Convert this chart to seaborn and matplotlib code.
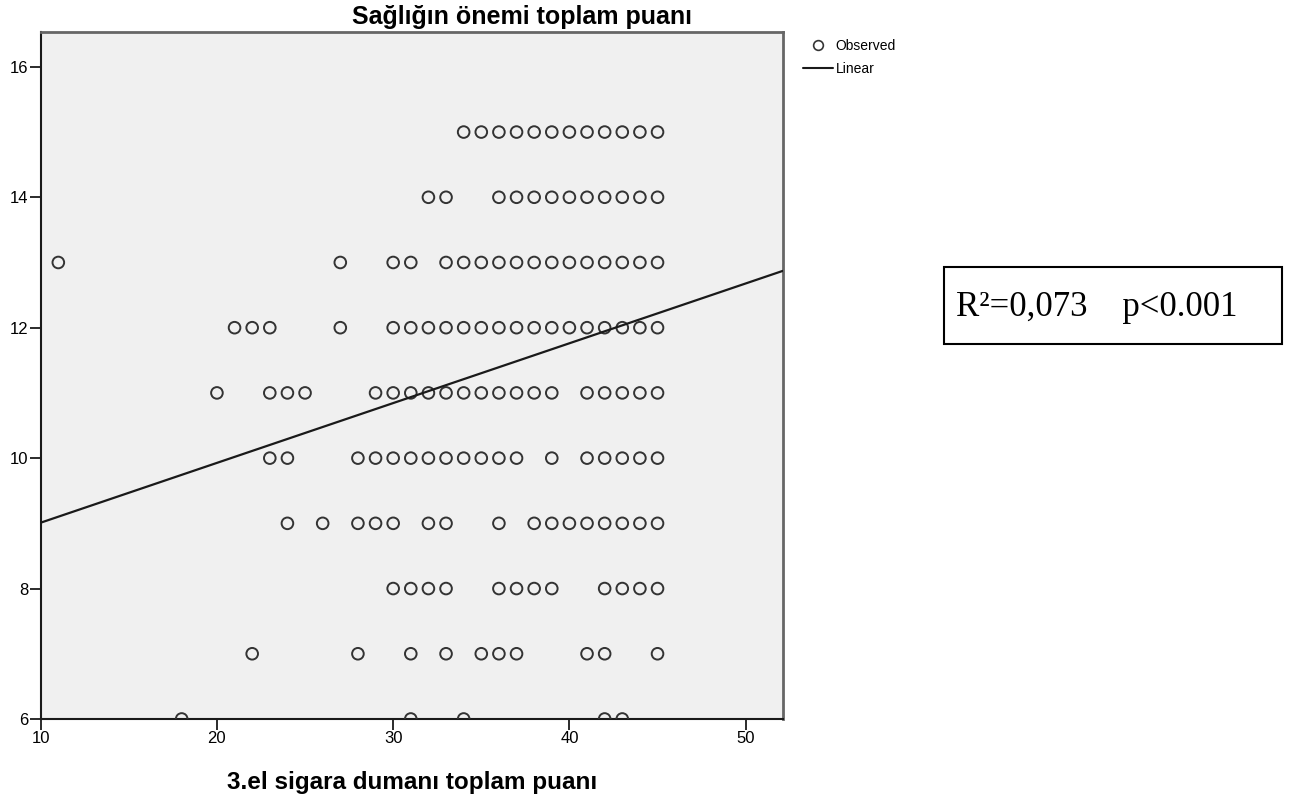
import pandas as pd
import matplotlib
matplotlib.use("Agg")
import matplotlib.pyplot as plt
from matplotlib.lines import Line2D
from matplotlib.patches import Rectangle
import seaborn as sns

# x values (3.el sigara dumani toplam puani) observed at each health score level
x_at_15 = [34, 35, 36, 37, 38, 39, 40, 41, 42, 43, 44, 45]
x_at_14 = [32, 33, 36, 37, 38, 39, 40, 41, 42, 43, 44, 45]
x_at_13 = [11, 27, 30, 31, 33, 34, 35, 36, 37, 38, 39, 40, 41, 42, 43, 44, 45]
x_at_12 = [21, 22, 23, 27, 30, 31, 32, 33, 34, 35, 36, 37, 38, 39, 40, 41, 42, 43, 44, 45]
x_at_11 = [20, 23, 24, 25, 29, 30, 31, 32, 33, 34, 35, 36, 37, 38, 39, 41, 42, 43, 44, 45]
x_at_10 = [23, 24, 28, 29, 30, 31, 32, 33, 34, 35, 36, 37, 39, 41, 42, 43, 44, 45]
x_at_9 = [24, 26, 28, 29, 30, 32, 33, 36, 38, 39, 40, 41, 42, 43, 44, 45]
x_at_8 = [30, 31, 32, 33, 36, 37, 38, 39, 42, 43, 44, 45]
x_at_7 = [22, 28, 31, 33, 35, 36, 37, 41, 42, 45]
x_at_6 = [18, 31, 34, 42, 43]

levels = [15, 14, 13, 12, 11, 10, 9, 8, 7, 6]
rows = [x_at_15, x_at_14, x_at_13, x_at_12, x_at_11, x_at_10, x_at_9, x_at_8, x_at_7, x_at_6]

# linear fit shown on the chart
fit_intercept = 8.093
fit_slope = 0.0917
fit_x = [10, 52.1]

x_ticks = [10, 20, 30, 40, 50]
y_ticks = [6, 8, 10, 12, 14, 16]

title = "Sağlığın önemi toplam puanı"
x_title = "3.el sigara dumanı toplam puanı"
stats_text = "R²=0,073    p<0.001"

df = pd.DataFrame({
    "sigara": [x for row in rows for x in row],
    "saglik": [lv for lv, row in zip(levels, rows) for _ in row],
})
line_df = pd.DataFrame({"sigara": fit_x,
                        "saglik": [fit_intercept + fit_slope * x for x in fit_x]})

sns.set_style("white")
plt.rcParams["font.family"] = ["Liberation Sans", "DejaVu Sans"]
plt.rcParams["text.color"] = "black"
plt.rcParams["xtick.labelcolor"] = "black"
plt.rcParams["ytick.labelcolor"] = "black"

fig = plt.figure(figsize=(12.96, 8.01), dpi=100)
ax = fig.add_axes([0.0314, 0.1024, 0.5725, 0.8573])
ax.set_facecolor("#f0f0f0")

sns.scatterplot(data=df, x="sigara", y="saglik", ax=ax, s=70, marker="o",
                facecolor="none", edgecolor="#333333", linewidth=1.4, zorder=3)
sns.lineplot(data=line_df, x="sigara", y="saglik", ax=ax, color="#1a1a1a",
             linewidth=1.6, zorder=4)

ax.set_xlim(10, 52.1)
ax.set_ylim(6, 16.53)
ax.set_xticks(x_ticks)
ax.set_yticks(y_ticks)
ax.set_xlabel("")
ax.set_ylabel("")
ax.tick_params(direction="out", length=8, width=1.3, color="#1a1a1a",
               labelsize=12, labelcolor="black", pad=1, bottom=True, left=True)
for side in ["left", "bottom"]:
    ax.spines[side].set_color("#1a1a1a")
    ax.spines[side].set_linewidth(1.5)
for side in ["top", "right"]:
    ax.spines[side].set_color("#666666")
    ax.spines[side].set_linewidth(2)

fig.text(0.403, 0.979, title, ha="center", va="center",
         fontsize=18, fontweight="bold", color="black")
fig.text(0.318, 0.0225, x_title, ha="center", va="center",
         fontsize=17.5, fontweight="bold", color="black")

handles = [
    Line2D([], [], marker="o", linestyle="none", markerfacecolor="none",
           markeredgecolor="#353535", markersize=7, markeredgewidth=1.2,
           label="Observed"),
    Line2D([], [], color="#1a1a1a", linewidth=1.5, label="Linear"),
]
fig.legend(handles=handles, loc="upper left", bbox_to_anchor=(0.6196, 0.951),
           frameon=False, fontsize=10, handlelength=2.15, handletextpad=0.2,
           labelspacing=0.6, borderpad=0, borderaxespad=0, labelcolor="black")

fig.patches.append(Rectangle((0.7284, 0.5705), 0.2608, 0.0961,
                             transform=fig.transFigure, facecolor="white",
                             edgecolor="black", linewidth=1.5))
fig.text(0.738, 0.6055, stats_text, ha="left", va="baseline", fontsize=25,
         color="black", family=["Liberation Serif", "DejaVu Serif"])

fig.savefig("out.png", dpi=100)
